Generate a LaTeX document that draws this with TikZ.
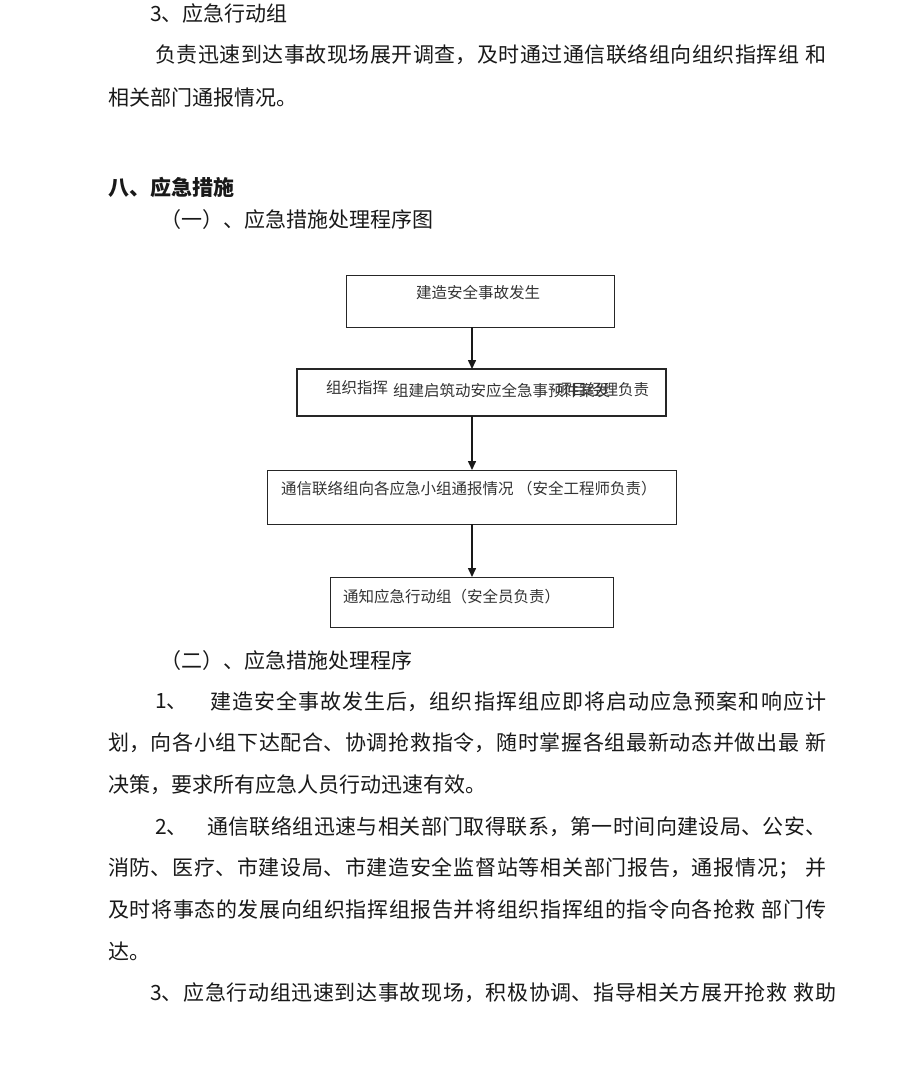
\documentclass[tikz,border=0pt]{standalone}
\usepackage{fontspec}
\setmainfont{Noto Sans CJK SC}
\usetikzlibrary{arrows.meta}
\XeTeXlinebreaklocale "zh"
\XeTeXlinebreakskip=0pt plus 2pt
\newcommand{\bodyfont}{\fontsize{21pt}{25pt}\selectfont}
\newcommand{\boxfont}{\fontsize{15.5pt}{19pt}\selectfont}
\tikzset{
  body/.style={anchor=west,inner sep=0pt,text=black!90,font=\bodyfont},
  boxtxt/.style={anchor=west,inner sep=0pt,text=black!80,font=\boxfont},
  flowbox/.style={draw=black!85,line width=0.9pt},
  flowarrow/.style={draw=black!90,line width=1.5pt,-{Triangle[width=8pt,length=9pt]}}
}
\newcommand{\jline}[2]{\parbox[c]{#1pt}{\hbadness=10000\parfillskip=0pt\parindent=0pt\noindent #2\par}}
\newcommand{\gap}{\hspace{6pt}}
\begin{document}
\begin{tikzpicture}[x=1pt,y=-1pt]
\useasboundingbox[fill=white] (0,0) rectangle (920,1088);
% top paragraph
\node[body] (t1) at (150,14) {3、应急行动组};
\node[body] (t2) at (155,55) {\jline{671}{负责迅速到达事故现场展开调查，及时通过通信联络组向组织指挥组\gap 和}};
\node[body] (t3) at (108,97) {相关部门通报情况。};
\node[body,font=\bodyfont\bfseries] (h8) at (108,187) {八、应急措施};
\node[body] (h81) at (160,220) {（一）、应急措施处理程序图};
% flow boxes
\draw[flowbox] (346,275) rectangle (614,327);
\coordinate (b1top) at (472,275);
\coordinate (b1bot) at (472,327);
\node[boxtxt] (b1t) at (416,293) {建造安全事故发生};
\draw[flowbox,line width=2.6pt] (297,369) rectangle (666,416);
\coordinate (b2top) at (472,369);
\coordinate (b2bot) at (472,416);
\node[boxtxt] (b2a) at (326,388) {组织指挥};
\node[boxtxt] (b2b) at (393,391) {组建启筑动安应全急事预件案发};
\node[boxtxt] (b2c) at (556,390) {项目经理负责};
\draw[flowbox] (267,470) rectangle (676,524);
\coordinate (b3top) at (472,470);
\coordinate (b3bot) at (472,524);
\node[boxtxt] (b3t) at (281,489) {通信联络组向各应急小组通报情况 （安全工程师负责）};
\draw[flowbox] (330,577) rectangle (613,627);
\coordinate (b4top) at (472,577);
\node[boxtxt] (b4t) at (343,597) {通知应急行动组（安全员负责）};
\draw[flowarrow] (b1bot) -- (b2top);
\draw[flowarrow] (b2bot) -- (b3top);
\draw[flowarrow] (b3bot) -- (b4top);
% lower text
\node[body] (h82) at (160,661) {（二）、应急措施处理程序};
\node[body] (p1n) at (155,702) {1、};
\node[body] (p1a) at (210,702) {\jline{616}{建造安全事故发生后，组织指挥组应即将启动应急预案和响应计}};
\node[body] (p1b) at (108,743) {\jline{718}{划，向各小组下达配合、协调抢救指令，随时掌握各组最新动态并做出最\gap 新}};
\node[body] (p1c) at (108,785) {决策，要求所有应急人员行动迅速有效。};
\node[body] (p2n) at (155,827) {2、};
\node[body] (p2a) at (207,827) {\jline{619}{通信联络组迅速与相关部门取得联系，第一时间向建设局、公安、}};
\node[body] (p2b) at (108,868) {\jline{718}{消防、医疗、市建设局、市建造安全监督站等相关部门报告，通报情况；\gap 并}};
\node[body] (p2c) at (108,910) {\jline{718}{及时将事态的发展向组织指挥组报告并将组织指挥组的指令向各抢救\gap 部门传}};
\node[body] (p2d) at (108,951) {达。};
\node[body] (p3a) at (150,993) {\jline{686}{3、应急行动组迅速到达事故现场，积极协调、指导相关方展开抢救\gap 救助}};
\end{tikzpicture}
\end{document}
